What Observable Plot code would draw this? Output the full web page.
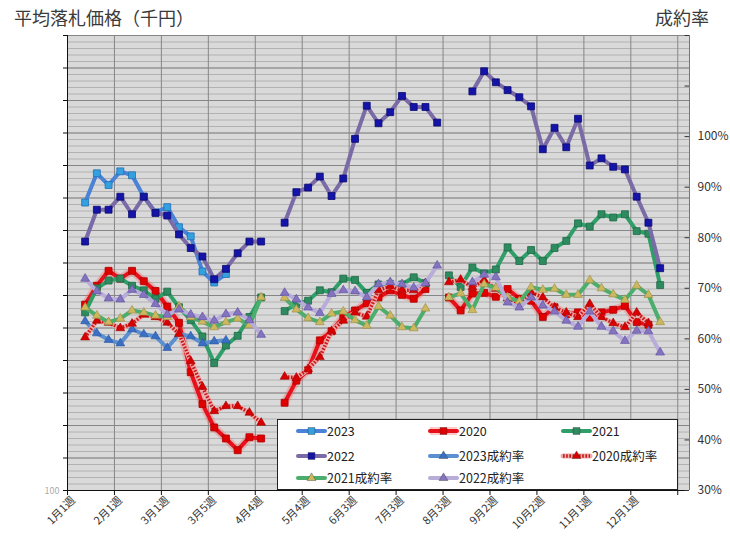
<!DOCTYPE html>
<html><head><meta charset="utf-8">
<script src="https://cdn.jsdelivr.net/npm/d3@7"></script>
<script src="https://cdn.jsdelivr.net/npm/@observablehq/plot@0.6"></script>
<style>
body{margin:0;background:#fff;font-family:"Noto Sans CJK JP","Noto Sans",sans-serif;}
#wrap{position:relative;width:730px;height:545px;overflow:hidden;}
.ttl{position:absolute;font-size:18px;color:#3a3a3a;line-height:1;white-space:nowrap;}
#legend{position:absolute;left:277px;top:419px;}
</style></head>
<body><div id="wrap">
<div class="ttl" style="left:14px;top:8px;">平均落札価格（千円）</div>
<div class="ttl" style="left:655px;top:8px;">成約率</div>
</div>
<script>
// week categories 0..51 (1月1週 ...). Tick labels every 4 weeks
const tickLabels = ["1月1週","2月1週","3月1週","3月5週","4月4週","5月4週","6月3週","7月3週","8月3週","9月2週","10月2週","11月1週","12月1週"];
const seriesNames = ["2023","2020","2021","2022","2023成約率","2020成約率","2021成約率","2022成約率"];
const _ = null;
// 平均落札価格 (left axis, 千円)
const price2023 = [_,543,588,570,591,585,552,528,536,505,491,437,420,433,_,_,_,_,_,_,_,_,_,_,_,_,_,_,_,_,_,_,_,_,_,_,_,_,_,_,_,_,_,_,_,_,_,_,_,_,_,_];
const price2020 = [_,386,415,438,426,438,422,407,383,358,282,233,197,180,162,182,180,_,235,269,285,331,345,367,377,388,397,408,401,395,410,_,397,377,403,404,398,410,395,392,367,382,371,374,366,374,378,384,359,355,_,_];
const price2021 = [_,374,411,423,426,415,408,395,406,382,362,337,296,323,338,367,397,_,376,387,392,408,405,426,424,404,417,418,417,428,419,_,431,413,443,434,440,474,453,470,453,473,484,511,506,525,520,525,499,495,416,_];
const price2022 = [_,483,532,532,552,525,552,527,523,494,473,460,425,441,465,483,483,_,512,559,566,583,553,580,641,692,665,682,707,690,690,666,_,_,714,745,728,716,705,691,625,658,628,672,600,611,598,594,552,512,442,_];
// 成約率 (right axis, %)
const rate2023 = [_,63.5,61.1,59.8,59.1,61.9,60.9,60.5,58.2,60.9,60.5,59.1,59.5,59.7,_,_,_,_,_,_,_,_,_,_,_,_,_,_,_,_,_,_,_,_,_,_,_,_,_,_,_,_,_,_,_,_,_,_,_,_,_,_];
const rate2020 = [_,60.3,63.6,63.2,62.1,63.0,64.8,64.3,63.2,61.0,55.6,50.5,45.7,46.7,46.7,45.4,43.4,_,52.5,52.3,54.0,56.4,61.5,63.6,65.2,64.4,69.6,70.4,69.6,69.6,71.0,_,71.2,71.7,70.2,71.6,69.9,68.0,67.0,69.2,68.2,66.2,65.2,64.3,66.9,64.3,63.1,62.3,65.2,63.1,_,_];
const rate2021 = [_,66.2,64.6,63.3,64.0,65.6,65.2,64.6,64.3,66.4,64.3,63.4,62.3,63.3,64.0,62.7,68.2,_,68.1,65.8,64.1,63.3,65.0,65.4,63.7,62.6,66.4,64.6,62.3,62.1,66.0,_,68.2,69.0,65.7,70.8,70.1,68.2,67.4,70.2,69.7,69.9,68.7,68.7,71.6,70.0,68.8,67.7,70.5,68.7,63.3,_];
const rate2022 = [_,71.9,69.4,68.0,67.8,69.7,68.7,66.9,64.8,65.8,64.8,64.3,63.6,64.9,65.2,63.7,60.8,_,69.1,67.8,66.2,65.1,68.9,69.6,69.4,68.2,70.8,71.2,70.8,70.1,71.0,74.5,_,_,71.2,72.7,72.2,67.2,66.2,68.2,66.6,65.4,63.6,62.4,65.4,62.4,61.5,59.6,61.6,61.5,57.3,_];
const rightTicks = [30,40,50,60,70,80,90,100,110,120];

// map rate (%) onto the left axis units (30% -> 100, 120% -> 800)
const rateToY = r => 100 + (r - 30) * 700 / 90;
function rows(arr, conv){ return arr.map((v,i)=>({x:i+0.5, y: v==null ? NaN : conv(v)})); }
const ident = v => v;
const d23 = rows(price2023, ident), d20 = rows(price2020, ident), d21 = rows(price2021, ident), d22 = rows(price2022, ident);
const r23 = rows(rate2023, rateToY), r20 = rows(rate2020, rateToY), r21 = rows(rate2021, rateToY), r22 = rows(rate2022, rateToY);
const ok = d => !isNaN(d.y);

const labelMap = new Map(tickLabels.map((t,k)=>[k*4, t]));
const L = (data, o) => Plot.line(data, {x:"x", y:"y", strokeLinejoin:"round", strokeLinecap:"round", ...o});
const D = (data, o) => Plot.dot(data.filter(ok), {x:"x", y:"y", ...o});

const chart = Plot.plot({
  width:730, height:545,
  marginLeft:67, marginRight:41, marginTop:35, marginBottom:55,
  style:{fontFamily:'"Noto Sans CJK JP","Noto Sans",sans-serif', fontSize:"11px", color:"#333", background:"transparent"},
  x:{domain:[0,53], label:null},
  y:{domain:[100,800], label:null},
  marks:[
    Plot.frame({fill:"#d9d9d9", stroke:null}),
    Plot.ruleY(d3.range(100,801,10), {stroke:"#b2b2b2", strokeWidth:1}),
    Plot.ruleY(d3.range(100,801,50), {stroke:"#868686", strokeWidth:1}),
    Plot.ruleX(d3.range(0,53,4), {stroke:"#868686", strokeWidth:1}),
    Plot.ruleX([0], {stroke:"#111"}),
    Plot.ruleX([53], {stroke:"#777"}),
    Plot.ruleY([100], {stroke:"#111"}),
    Plot.axisY({anchor:"left", label:null, ticks:d3.range(100,801,50), tickFormat:()=>"", tickSize:4, stroke:"#111"}),
    Plot.axisY({anchor:"right", label:null, ticks:rightTicks.map(rateToY), tickSize:0, tickPadding:8, fontSize:12, fill:"#333",
      tickFormat: v => { const r = Math.round(30 + (v-100)*90/700); return r <= 100 ? r + "%" : ""; }}),
    Plot.ruleY(rightTicks.map(rateToY), {x1:()=>52.62, x2:()=>53, stroke:"#333"}),
    Plot.axisX({anchor:"bottom", label:null, ticks:d3.range(0,53,4), tickFormat:()=>"", tickSize:5, stroke:"#111"}),
    Plot.axisX({anchor:"bottom", label:null, ticks:d3.range(0,49,4).map(d=>d+0.5), tickSize:0, tickPadding:8, tickRotate:-45, fontSize:11, fill:"#333",
      tickFormat: d => labelMap.get(Math.round(d-0.5)) ?? ""}),
    Plot.text(["100"], {frameAnchor:"bottom-left", dx:-23, dy:3, fontSize:9, fill:"#aaa"}),
    // series (legend order)
    L(d23, {stroke:"#4a82d8", strokeWidth:4}),
    D(d23, {symbol:"square", r:3.9, fill:"#35a0e0", stroke:"#2070b8", strokeWidth:0.8}),
    L(d20, {stroke:"#ff5050", strokeWidth:8, strokeOpacity:0.3}),
    L(d20, {stroke:"#e8101a", strokeWidth:4}),
    D(d20, {symbol:"square", r:3.9, fill:"#e00000", stroke:"#b00000", strokeWidth:0.8}),
    L(d21, {stroke:"#2f9e68", strokeWidth:4}),
    D(d21, {symbol:"square", r:3.9, fill:"#2e8b60", stroke:"#1f6a45", strokeWidth:0.8}),
    L(d22, {stroke:"#7a6aa6", strokeWidth:4}),
    D(d22, {symbol:"square", r:3.9, fill:"#1414a8", stroke:"#0a0a70", strokeWidth:0.8}),
    L(r23, {stroke:"#5b8fcf", strokeWidth:4}),
    D(r23, {symbol:"triangle", r:3.3, fill:"#3a6fc4", stroke:"#2a55a0", strokeWidth:0.6}),
    L(r20, {stroke:"#eeaaaa", strokeWidth:5}),
    L(r20, {stroke:"#c81818", strokeWidth:3.5, strokeDasharray:"1.6,1.6", strokeLinecap:"butt"}),
    D(r20, {symbol:"triangle", r:3.3, fill:"#d80000", stroke:"#a00000", strokeWidth:0.6}),
    L(r21, {stroke:"#4cae6c", strokeWidth:4}),
    D(r21, {symbol:"triangle", r:3.3, fill:"#cbb860", stroke:"#9a8a40", strokeWidth:0.6}),
    L(r22, {stroke:"#b8acd8", strokeWidth:4}),
    D(r22, {symbol:"triangle", r:3.3, fill:"#8474c0", stroke:"#5a4aa0", strokeWidth:0.6})
  ]
});
const wrap = document.getElementById("wrap");
chart.style.position = "absolute"; chart.style.left = "0"; chart.style.top = "0";
wrap.insertBefore(chart, wrap.firstChild);

// legend
const legendItems = [
  {name:seriesNames[0], stroke:"#4a82d8", sym:"square", fill:"#35a0e0"},
  {name:seriesNames[1], stroke:"#e8101a", sym:"square", fill:"#e00000", glow:true},
  {name:seriesNames[2], stroke:"#2f9e68", sym:"square", fill:"#2e8b60"},
  {name:seriesNames[3], stroke:"#7a6aa6", sym:"square", fill:"#1414a8"},
  {name:seriesNames[4], stroke:"#5b8fcf", sym:"triangle", fill:"#3a6fc4"},
  {name:seriesNames[5], stroke:"#eeaaaa", sym:"triangle", fill:"#d80000", hatch:true},
  {name:seriesNames[6], stroke:"#4cae6c", sym:"triangle", fill:"#cbb860"},
  {name:seriesNames[7], stroke:"#b8acd8", sym:"triangle", fill:"#8474c0"}
];
const lg = d3.select(wrap).append("svg").attr("id","legend").attr("width",402).attr("height",72)
  .style("font-family",'"Noto Sans CJK JP","Noto Sans",sans-serif');
lg.append("rect").attr("x",0.5).attr("y",0.5).attr("width",400).attr("height",70).attr("fill","#fff").attr("stroke","#222");
const colX = [21, 153, 286], rowY = [12, 37, 59];
legendItems.forEach((it, k) => {
  const cx = colX[k%3], cy = rowY[Math.floor(k/3)];
  const g = lg.append("g");
  if (it.glow) g.append("line").attr("x1",cx).attr("x2",cx+27).attr("y1",cy).attr("y2",cy).attr("stroke","#ff5050").attr("stroke-opacity",0.3).attr("stroke-width",8);
  g.append("line").attr("x1",cx).attr("x2",cx+27).attr("y1",cy).attr("y2",cy).attr("stroke",it.stroke).attr("stroke-width",it.hatch?5:4).attr("stroke-linecap","round");
  if (it.hatch) g.append("line").attr("x1",cx).attr("x2",cx+27).attr("y1",cy).attr("y2",cy).attr("stroke","#c81818").attr("stroke-width",3.5).attr("stroke-dasharray","1.6,1.6");
  const sym = it.sym === "square" ? d3.symbol(d3.symbolSquare, 48) : d3.symbol(d3.symbolTriangle, 34);
  g.append("path").attr("d", sym()).attr("transform",`translate(${cx+13.5},${cy})`).attr("fill",it.fill).attr("stroke","#333").attr("stroke-width",0.4);
  g.append("text").attr("x",cx+29).attr("y",cy).attr("dy","0.36em").attr("font-size",12.5).attr("fill","#222").text(it.name);
});
</script>
</body></html>
